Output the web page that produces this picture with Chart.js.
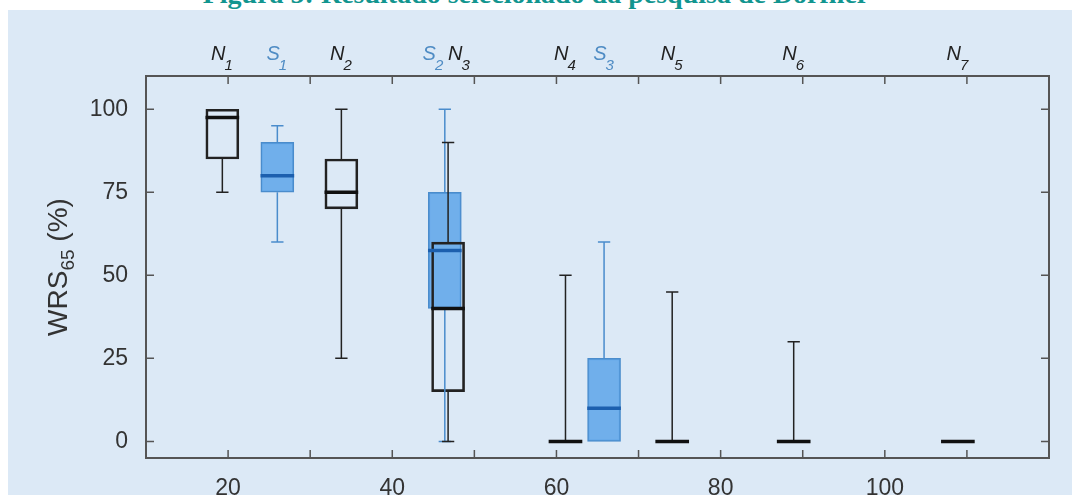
<!DOCTYPE html>
<html>
<head>
<meta charset="utf-8">
<script src="https://cdn.jsdelivr.net/npm/chart.js@4.4.1/dist/chart.umd.min.js"></script>
<style>
  body { margin: 0; background: #fff; width: 1072px; height: 495px; overflow: hidden; position: relative; }
  #title { position: absolute; left: 0; top: -20px; width: 1072px; text-align: center;
           font: bold 28px/28px "Liberation Serif", serif; color: #12958f; }
  #panel { position: absolute; left: 8px; top: 10px; width: 1064px; height: 485px; background: #dce9f6; }
</style>
</head>
<body>
<div id="title">Figura 5: Resultado selecionado da pesquisa de Dorfner</div>
<div id="panel"><canvas id="box-chart"></canvas></div>
<script>
// groups, N = black boxes, S = blue boxes
var categories = ['N1', 'S1', 'N2', 'S2', 'N3', 'N4', 'S3', 'N5', 'N6', 'N7'];
var positions  = [19.3, 26.0, 33.8, 46.4, 46.8, 61.1, 65.8, 74.1, 88.9, 108.9];
var mins       = [75, 60, 25, 0, 0, 0, 0, 0, 0, 0];
var q1s        = [85, 75, 70, 40, 15, 0, 0, 0, 0, 0];
var medians    = [97.5, 80, 75, 57.5, 40, 0, 10, 0, 0, 0];
var q3s        = [100, 90, 85, 75, 60, 0, 25, 0, 0, 0];
var maxs       = [100, 95, 100, 100, 90, 50, 60, 45, 30, 0];
var xTicks     = [20, 30, 40, 50, 60, 70, 80, 90, 100, 110];
var xLabels    = [20, 40, 60, 80, 100];
var yTicks     = [0, 25, 50, 75, 100];

var HALF = 2.05, CAP = 0.75;
var blue = '#4a8ccc';

function idx(g){ return categories.map(function(c, i){ return c[0] === g ? i : -1; }).filter(function(i){ return i >= 0; }); }

function boxes(g){
    return idx(g).filter(function(i){ return q3s[i] > q1s[i]; })
        .map(function(i){ return {x: positions[i], y: [q1s[i], q3s[i]]}; });
}
function whiskers(g){
    var out = [];
    idx(g).forEach(function(i){
        var x = positions[i];
        if (maxs[i] > q3s[i]) {
            out.push({x: x, y: q3s[i]}, {x: x, y: maxs[i]}, {x: x, y: null});
            out.push({x: x - CAP, y: maxs[i]}, {x: x + CAP, y: maxs[i]}, {x: x, y: null});
        }
        if (mins[i] < q1s[i]) {
            out.push({x: x, y: q1s[i]}, {x: x, y: mins[i]}, {x: x, y: null});
            out.push({x: x - CAP, y: mins[i]}, {x: x + CAP, y: mins[i]}, {x: x, y: null});
        }
    });
    return out;
}
function medianLines(g){
    var out = [];
    idx(g).forEach(function(i){
        out.push({x: positions[i] - HALF, y: medians[i]}, {x: positions[i] + HALF, y: medians[i]}, {x: positions[i], y: null});
    });
    return out;
}

function lineSet(data, color, width, order){
    return {type: 'line', data: data, borderColor: color, borderWidth: width, pointRadius: 0,
            spanGaps: false, fill: false, tension: 0, order: order, borderCapStyle: 'butt'};
}

var framePlugin = {
    id: 'frame',
    afterDraw: function(chart){
        var ctx = chart.ctx, a = chart.chartArea, xs = chart.scales.x, ys = chart.scales.y;
        ctx.save();
        ctx.strokeStyle = '#555';
        ctx.lineWidth = 1.5;
        ctx.beginPath();
        xTicks.forEach(function(v){
            var p = xs.getPixelForValue(v);
            ctx.moveTo(p, a.bottom); ctx.lineTo(p, a.bottom - 8);
            ctx.moveTo(p, a.top); ctx.lineTo(p, a.top + 8);
        });
        yTicks.forEach(function(v){
            var p = ys.getPixelForValue(v);
            ctx.moveTo(a.left, p); ctx.lineTo(a.left + 8, p);
            ctx.moveTo(a.right, p); ctx.lineTo(a.right - 8, p);
        });
        ctx.stroke();
        ctx.lineWidth = 2;
        ctx.strokeRect(a.left, a.top, a.right - a.left, a.bottom - a.top);

        // y title with subscript
        ctx.fillStyle = '#333';
        ctx.translate(59, (a.top + a.bottom) / 2);
        ctx.rotate(-Math.PI / 2);
        ctx.textBaseline = 'alphabetic';
        ctx.font = '28px "Liberation Sans"';
        var w1 = ctx.measureText('WRS').width, w3 = ctx.measureText(' (%)').width;
        ctx.font = '19px "Liberation Sans"';
        var w2 = ctx.measureText('65').width;
        var x0 = -(w1 + w2 + w3) / 2;
        ctx.font = '28px "Liberation Sans"';
        ctx.fillText('WRS', x0, 0);
        ctx.fillText(' (%)', x0 + w1 + w2, 0);
        ctx.font = '19px "Liberation Sans"';
        ctx.fillText('65', x0 + w1, 7);
        ctx.restore();

        // top group labels
        var centers = positions.map(function(v){ return xs.getPixelForValue(v); });
        for (var i = 1; i < centers.length; i++) {
            if (centers[i] - centers[i - 1] < 24) {
                var m = (centers[i] + centers[i - 1]) / 2;
                centers[i - 1] = m - 13; centers[i] = m + 13;
            }
        }
        ctx.save();
        ctx.textBaseline = 'alphabetic';
        categories.forEach(function(c, i){
            ctx.fillStyle = c[0] === 'S' ? '#4f8cc4' : '#222';
            ctx.font = 'italic 20px "Liberation Sans"';
            var wm = ctx.measureText(c[0]).width;
            ctx.font = 'italic 15px "Liberation Sans"';
            var ws = ctx.measureText(c.slice(1)).width;
            var x0 = centers[i] - (wm + ws) / 2;
            ctx.font = 'italic 20px "Liberation Sans"';
            ctx.fillText(c[0], x0, 50);
            ctx.font = 'italic 15px "Liberation Sans"';
            ctx.fillText(c.slice(1), x0 + wm - 1, 60);
        });
        ctx.restore();
    }
};

new Chart(document.getElementById('box-chart'), {
    type: 'bar',
    data: {
        datasets: [
            {type: 'bar', data: boxes('S'), backgroundColor: 'rgba(100,168,234,0.9)', borderColor: blue,
             borderWidth: 1.5, borderSkipped: false, barThickness: 33, grouped: false, order: 10},
            {type: 'bar', data: boxes('N'), backgroundColor: 'rgba(0,0,0,0)', borderColor: '#222',
             borderWidth: 2, borderSkipped: false, barThickness: 33, grouped: false, order: 9},
            lineSet(whiskers('S'), blue, 1.5, 8),
            lineSet(whiskers('N'), '#222', 1.5, 7),
            lineSet(medianLines('S'), '#1c5fae', 3.5, 6),
            lineSet(medianLines('N'), '#111', 3.5, 5)
        ]
    },
    options: {
        responsive: true,
        maintainAspectRatio: false,
        animation: false,
        layout: {padding: {top: 66, right: 23, left: 0, bottom: 0}},
        plugins: {legend: {display: false}, tooltip: {enabled: false}},
        scales: {
            x: {
                type: 'linear', min: 10, max: 120, offset: false,
                afterBuildTicks: function(s){ s.ticks = xTicks.map(function(v){ return {value: v}; }); },
                afterFit: function(s){ s.height = 37; },
                grid: {display: false}, border: {display: false},
                ticks: {
                    padding: 9, color: '#333', maxRotation: 0, autoSkip: false,
                    font: {family: 'Liberation Sans', size: 23},
                    callback: function(v){ return xLabels.indexOf(v) >= 0 ? String(v) : ''; }
                }
            },
            y: {
                min: -5, max: 110,
                afterBuildTicks: function(s){ s.ticks = yTicks.map(function(v){ return {value: v}; }); },
                afterFit: function(s){ s.width = 138; },
                grid: {display: false}, border: {display: false},
                ticks: {padding: 10, color: '#333', font: {family: 'Liberation Sans', size: 23}}
            }
        }
    },
    plugins: [framePlugin]
});
</script>
</body>
</html>
